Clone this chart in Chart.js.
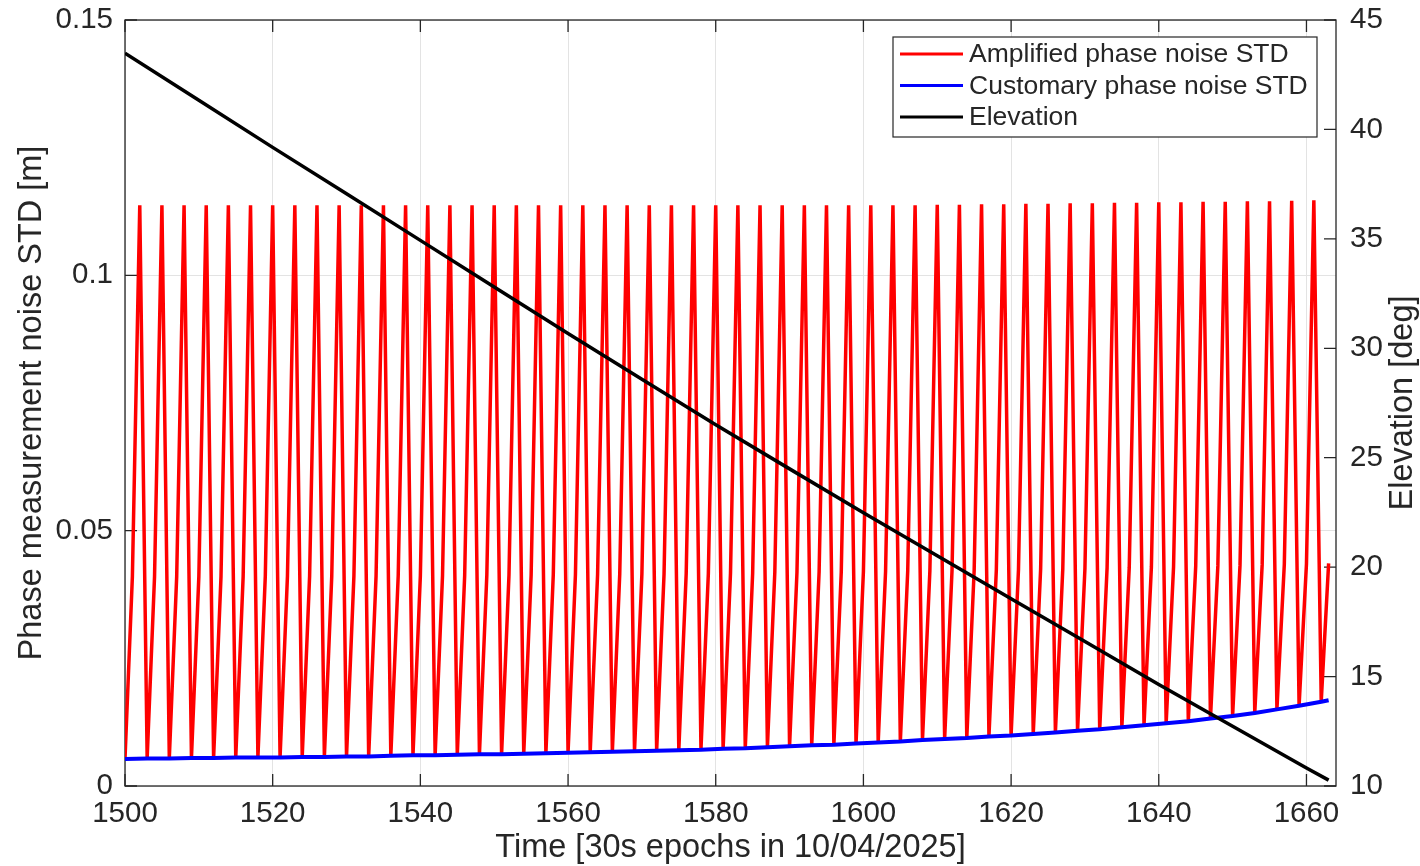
<!DOCTYPE html>
<html>
<head>
<meta charset="utf-8">
<script src="https://cdn.jsdelivr.net/npm/chart.js@4.4.0/dist/chart.umd.min.js"></script>
<style>
html, body { margin: 0; padding: 0; background: #fff; }
#contenedor { width: 1420px; height: 866px; }
</style>
</head>
<body>
<div id="contenedor"><canvas id="grafico" width="1420" height="866"></canvas></div>
<script>
//datos
const etiquetas = ["Amplified phase noise STD", "Customary phase noise STD", "Elevation"];
//STD habitual en las epocas 1500, 1503, ..., 1662 y la ultima 1663
const stdHabitual = [
    0.0053, 0.0054, 0.0054, 0.0055, 0.0055, 0.0056, 0.0056, 0.0056, 0.0057, 0.0057,
    0.0058, 0.0058, 0.0059, 0.0060, 0.0060, 0.0061, 0.0062, 0.0062, 0.0063, 0.0064,
    0.0065, 0.0066, 0.0067, 0.0068, 0.0069, 0.0070, 0.0071, 0.0073, 0.0074, 0.0076,
    0.0078, 0.0080, 0.0081, 0.0083, 0.0085, 0.0087, 0.0090, 0.0092, 0.0094, 0.0097,
    0.0099, 0.0102, 0.0105, 0.0108, 0.0111, 0.0115, 0.0119, 0.0123, 0.0127, 0.0132,
    0.0137, 0.0143, 0.0150, 0.0157, 0.0165, 0.0168
];
//STD amplificado: valor intermedio en 1501, 1504, ..., 1663
const stdMedio = [
    0.0410, 0.0410, 0.0410, 0.0410, 0.0410, 0.0410, 0.0411, 0.0411, 0.0411, 0.0411,
    0.0411, 0.0411, 0.0412, 0.0412, 0.0412, 0.0412, 0.0413, 0.0413, 0.0413, 0.0414,
    0.0414, 0.0414, 0.0415, 0.0415, 0.0415, 0.0416, 0.0416, 0.0417, 0.0417, 0.0418,
    0.0418, 0.0419, 0.0419, 0.0420, 0.0420, 0.0421, 0.0421, 0.0422, 0.0423, 0.0423,
    0.0424, 0.0425, 0.0425, 0.0426, 0.0427, 0.0428, 0.0429, 0.0429, 0.0430, 0.0431,
    0.0432, 0.0433, 0.0434, 0.0435, 0.0436
];
//STD amplificado: picos en 1502, 1505, ..., 1661
const stdPico = [
    0.1137, 0.1137, 0.1137, 0.1137, 0.1137, 0.1137, 0.1137, 0.1137, 0.1137, 0.1137,
    0.1137, 0.1137, 0.1137, 0.1137, 0.1137, 0.1137, 0.1137, 0.1137, 0.1137, 0.1137,
    0.1137, 0.1137, 0.1137, 0.1137, 0.1137, 0.1137, 0.1137, 0.1137, 0.1137, 0.1137,
    0.1137, 0.1137, 0.1137, 0.1137, 0.1137, 0.1137, 0.1138, 0.1138, 0.1139, 0.1139,
    0.1140, 0.1140, 0.1141, 0.1141, 0.1142, 0.1142, 0.1143, 0.1143, 0.1144, 0.1144,
    0.1145, 0.1145, 0.1146, 0.1147
];
const epocasElev = [1500, 1510, 1520, 1530, 1540, 1550, 1560, 1570, 1580, 1590, 1600, 1610, 1620, 1630, 1640, 1650, 1660, 1663];
const elevacion = [43.48, 41.33, 39.18, 37.06, 34.93, 32.80, 30.68, 28.59, 26.51, 24.49, 22.48, 20.52, 18.56, 16.60, 14.64, 12.73, 10.82, 10.27];

//armar puntos {x,y}
const puntosHabitual = stdHabitual.map((v, i) => ({ x: i < 55 ? 1500 + 3 * i : 1663, y: v }));
const puntosAmplif = [];
for (let i = 0; i < 55; i++) {
    puntosAmplif.push({ x: 1500 + 3 * i, y: stdHabitual[i] });
    puntosAmplif.push({ x: 1501 + 3 * i, y: stdMedio[i] });
    if (i < stdPico.length) puntosAmplif.push({ x: 1502 + 3 * i, y: stdPico[i] });
}
const puntosElev = epocasElev.map((e, i) => ({ x: e, y: elevacion[i] }));

const fuente = "'Liberation Sans', Arial, Helvetica, sans-serif";
const colorEje = "#262626";
const largoTick = 12;
const tituloDerecho = "Elevation [deg]";

//caja del eje con ticks hacia dentro (estilo matlab)
const marco = {
    id: "marco",
    beforeDatasetsDraw(chart) {
        const { ctx, chartArea: a, scales } = chart;
        ctx.save();
        ctx.strokeStyle = colorEje;
        ctx.lineWidth = 1.3;
        ctx.beginPath();
        scales.x.ticks.forEach(t => {
            const px = scales.x.getPixelForValue(t.value);
            ctx.moveTo(px, a.bottom); ctx.lineTo(px, a.bottom - largoTick);
            ctx.moveTo(px, a.top); ctx.lineTo(px, a.top + largoTick);
        });
        scales.y.ticks.forEach(t => {
            const py = scales.y.getPixelForValue(t.value);
            ctx.moveTo(a.left, py); ctx.lineTo(a.left + largoTick, py);
        });
        scales.y2.ticks.forEach(t => {
            const py = scales.y2.getPixelForValue(t.value);
            ctx.moveTo(a.right, py); ctx.lineTo(a.right - largoTick, py);
        });
        ctx.stroke();
        ctx.strokeRect(a.left, a.top, a.width, a.height);
        //titulo del eje derecho, girado como en matlab (de abajo hacia arriba)
        ctx.translate(1403, (a.top + a.bottom) / 2);
        ctx.rotate(-Math.PI / 2);
        ctx.fillStyle = colorEje;
        ctx.font = "32.5px " + fuente;
        ctx.textAlign = "center";
        ctx.textBaseline = "middle";
        ctx.fillText(tituloDerecho, 0, 0);
        ctx.restore();
    }
};

//leyenda con borde arriba a la derecha
const leyenda = {
    id: "leyenda",
    afterDraw(chart) {
        const { ctx, chartArea: a } = chart;
        const x0 = a.right - 443, y0 = a.top + 17, w = 424, h = 100;
        ctx.save();
        ctx.fillStyle = "#fff";
        ctx.fillRect(x0, y0, w, h);
        ctx.strokeStyle = colorEje;
        ctx.lineWidth = 1.2;
        ctx.strokeRect(x0, y0, w, h);
        ctx.font = "26.5px " + fuente;
        ctx.textBaseline = "middle";
        chart.data.datasets.forEach((d, i) => {
            const y = y0 + 17 + i * 31.5;
            ctx.strokeStyle = d.borderColor;
            ctx.lineWidth = 3;
            ctx.beginPath();
            ctx.moveTo(x0 + 7, y); ctx.lineTo(x0 + 70, y);
            ctx.stroke();
            ctx.fillStyle = colorEje;
            ctx.fillText(d.label, x0 + 76, y + 1);
        });
        ctx.restore();
    }
};

const sinRelleno = s => { s.paddingTop = 0; s.paddingBottom = 0; };

const ctx = document.getElementById("grafico").getContext("2d");
const grafico = new Chart(ctx, {
    type: "line",
    data: {
        datasets: [
            { label: etiquetas[0], data: puntosAmplif, borderColor: "#ff0000", borderWidth: 3.5, yAxisID: "y", order: 3 },
            { label: etiquetas[1], data: puntosHabitual, borderColor: "#0000ff", borderWidth: 4, yAxisID: "y", order: 2 },
            { label: etiquetas[2], data: puntosElev, borderColor: "#000000", borderWidth: 3.5, yAxisID: "y2", order: 1 }
        ]
    },
    options: {
        responsive: false,
        animation: false,
        devicePixelRatio: 1,
        elements: { point: { radius: 0 }, line: { tension: 0, borderJoinStyle: "miter" } },
        layout: { padding: { top: 20, left: 0, right: 0, bottom: 0 } },
        plugins: { legend: { display: false }, tooltip: { enabled: false } },
        scales: {
            x: {
                type: "linear",
                min: 1500,
                max: 1664,
                afterFit: s => { s.height = 80; s.paddingLeft = 0; s.paddingRight = 0; },
                border: { display: false },
                grid: { color: "#e3e3e3", lineWidth: 1, drawTicks: false },
                ticks: { stepSize: 20, includeBounds: false, autoSkip: false, maxRotation: 0, padding: 10, color: colorEje, font: { family: fuente, size: 29.5 }, callback: v => String(v) },
                title: { display: true, text: "Time [30s epochs in 10/04/2025]", color: colorEje, font: { family: fuente, size: 32.5, lineHeight: 1 }, padding: { top: 0, bottom: 2 } }
            },
            y: {
                position: "left",
                min: 0,
                max: 0.15,
                afterFit: s => { s.width = 125; sinRelleno(s); },
                border: { display: false },
                grid: { color: "#e3e3e3", lineWidth: 1, drawTicks: false },
                ticks: { stepSize: 0.05, padding: 12, color: colorEje, font: { family: fuente, size: 29.5 }, callback: v => String(+v.toFixed(2)) },
                title: { display: true, text: "Phase measurement noise STD [m]", color: colorEje, font: { family: fuente, size: 32.5, lineHeight: 1 }, padding: { top: 16, bottom: 0 } }
            },
            y2: {
                position: "right",
                min: 10,
                max: 45,
                afterFit: s => { s.width = 84; sinRelleno(s); },
                border: { display: false },
                grid: { display: false, drawTicks: false },
                ticks: { stepSize: 5, padding: 14, color: colorEje, font: { family: fuente, size: 29.5 } }
            }
        }
    },
    plugins: [marco, leyenda]
});
</script>
</body>
</html>
